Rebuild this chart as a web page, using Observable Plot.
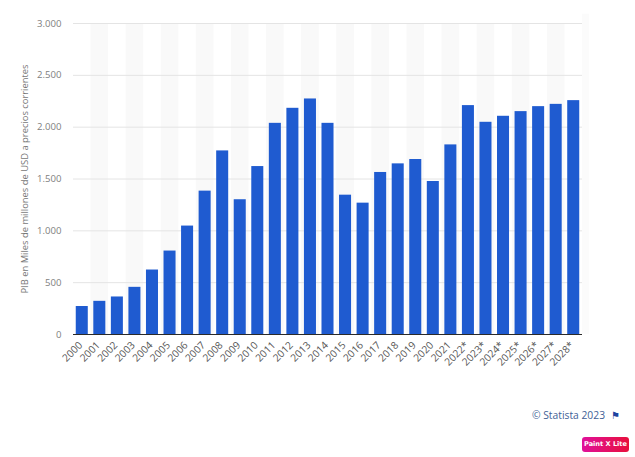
<!DOCTYPE html>
<html>
<head>
<meta charset="utf-8">
<script src="https://cdn.jsdelivr.net/npm/d3@7"></script>
<script src="https://cdn.jsdelivr.net/npm/@observablehq/plot@0.6"></script>
<style>
  html, body { margin: 0; padding: 0; background: #fff; width: 635px; height: 457px; overflow: hidden; }
  #chart svg { display: block; }
  #credit { height: 22px; text-align: right; padding-right: 15px; margin-top: 2px;
    font: 10.3px/22px "Open Sans", sans-serif; color: #3f5f96; }
  #credit .flag { color: #1f45a0; font: 10px/22px "DejaVu Sans", sans-serif; margin-left: 6px; }
  #badge { position: absolute; left: 582px; top: 437px; width: 47px; height: 15px; border-radius: 3px;
    background: linear-gradient(90deg, #e0109a, #e8103c); color: #fff; text-align: center;
    font: bold 6.6px/14px "DejaVu Sans", sans-serif; }
</style>
</head>
<body>
<div id="chart"></div>
<div id="credit">© Statista 2023<span class="flag">⚑</span></div>
<div id="badge">Paint X Lite</div>
<script>
const years = ["2000","2001","2002","2003","2004","2005","2006","2007","2008","2009","2010","2011","2012","2013","2014","2015","2016","2017","2018","2019","2020","2021","2022*","2023*","2024*","2025*","2026*","2027*","2028*"];
const gdp = [270,320,362,455,622,805,1046,1383,1771,1300,1620,2037,2182,2272,2037,1344,1267,1563,1646,1688,1476,1829,2208,2047,2105,2150,2198,2220,2256];
const yTicks = [0,500,1000,1500,2000,2500,3000];
const stripeYears = years.filter((d, i) => i % 2 === 1);
const yTitle = "PIB en Miles de millones de USD a precios corrientes";
const table = years.map((year, i) => ({year, value: gdp[i]}));
const fmt = d => d3.format(",")(d).replace(/,/g, ".");

const plot = Plot.plot({
  width: 635,
  height: 402,
  marginLeft: 73,
  marginRight: 53,
  marginTop: 23,
  marginBottom: 68,
  style: {fontFamily: "'Open Sans', sans-serif", background: "#fff"},
  x: {domain: years, paddingInner: 0.315, paddingOuter: 0.157, round: false, label: null},
  y: {domain: [0, 3000], label: null},
  marks: [
    Plot.barY(stripeYears, {x: d => d, y1: () => 0, y2: () => 3000, fill: "#f9f9f9", insetLeft: -2.8, insetRight: -2.8}),
    Plot.barY(years.slice(-1), {x: d => d, y1: () => 0, y2: () => 3090, fill: "#fbfbfb", insetLeft: 14.7, insetRight: -9.7}),
    Plot.gridY(yTicks.filter(d => d > 0), {stroke: "#e4e4e4", strokeOpacity: 1, strokeWidth: 1}),
    Plot.barY(table, {x: "year", y: "value", fill: "#1f5bd0"}),
    Plot.ruleY([0], {stroke: "#2a2a2a", strokeWidth: 1}),
    Plot.axisY({ticks: yTicks, tickFormat: fmt, tickSize: 0, tickPadding: 12, fontSize: 9.6, color: "#808080", label: null}),
    Plot.axisX({tickSize: 0, tickRotate: -45, tickPadding: 9, dx: -1.5, fontSize: 10.2, color: "#555", label: null}),
    Plot.text([yTitle], {frameAnchor: "left", textAnchor: "middle", rotate: -90, dx: -49, fontSize: 9.4, fill: "#777"})
  ]
});
document.getElementById("chart").append(plot);
</script>
</body>
</html>
